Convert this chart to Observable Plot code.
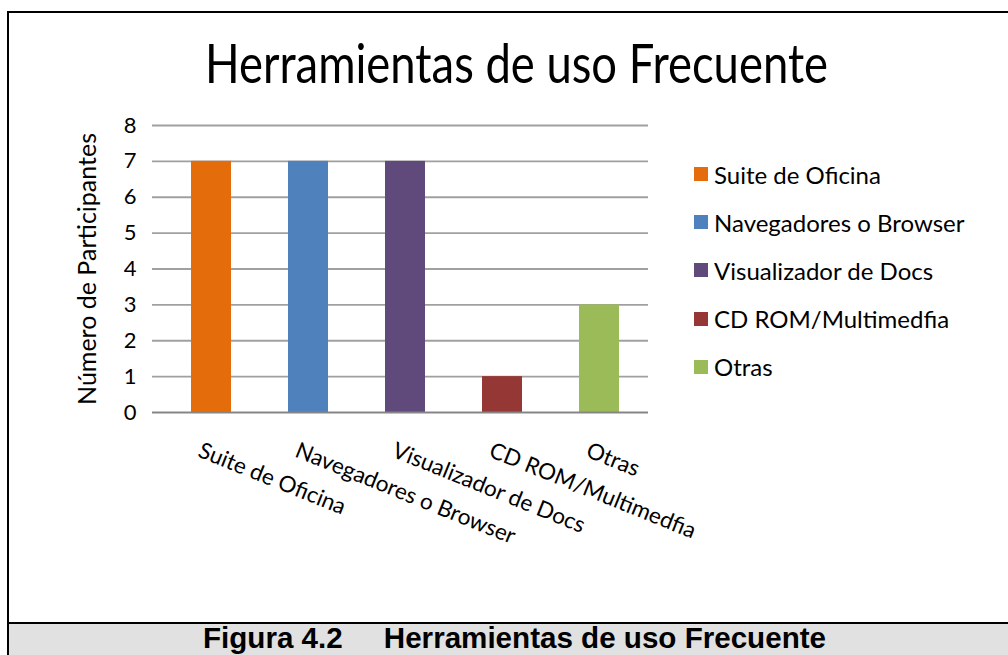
<!DOCTYPE html>
<html><head><meta charset="utf-8">
<script src="https://cdn.jsdelivr.net/npm/d3@7"></script>
<script src="https://cdn.jsdelivr.net/npm/@observablehq/plot@0.6"></script>
<style>
html,body{margin:0;padding:0;background:#fff;}
#wrap{position:relative;width:1008px;height:655px;overflow:hidden;background:#fff;font-family:Lato,"Open Sans",sans-serif;}
.ln{position:absolute;background:#000;}
#band{position:absolute;left:9px;top:624px;width:1000px;height:31px;background:#e1e1e1;}
.fit{position:absolute;white-space:pre;display:inline-block;transform-origin:0 0;color:#000;}
#title{top:36px;font-family:Lato,sans-serif;font-size:54px;line-height:54px;}
#caption{top:623px;font-family:"Liberation Sans",Arial,sans-serif;font-weight:bold;font-size:30px;line-height:30px;}
#chart{position:absolute;left:0;top:0;}
#legend{position:absolute;left:694px;top:150px;}
.row{height:48.2px;display:flex;align-items:center;font-size:24px;color:#000;white-space:nowrap;}
.sw{width:14px;height:14px;margin-right:6px;flex:none;}
</style>
</head><body>
<div id="wrap">
  <div id="chart"></div>
  <span id="title" class="fit"></span>
  <div id="legend"></div>
  <div class="ln" style="left:7px;top:11px;width:1001px;height:2px;"></div>
  <div class="ln" style="left:7px;top:11px;width:2px;height:644px;"></div>
  <div class="ln" style="left:9px;top:622px;width:999px;height:2px;"></div>
  <div id="band"></div>
  <span id="caption" class="fit"></span>
</div>
<script>
const title = "Herramientas de uso Frecuente";
const caption = "Figura 4.2     Herramientas de uso Frecuente";
const yLabel = "Número de Participantes";
const categories = ["Suite de Oficina", "Navegadores o Browser", "Visualizador de Docs", "CD ROM/Multimedfia", "Otras"];
const values = [7, 7, 7, 1, 3];
const colors = ["#E46C0A", "#4F81BD", "#604A7B", "#953735", "#9BBB59"];
const yTicks = [0, 1, 2, 3, 4, 5, 6, 7, 8];

const data = categories.map((c, i) => ({category: c, value: values[i]}));

function fitText(id, text, left, width) {
  const el = document.getElementById(id);
  el.textContent = text;
  const w = el.getBoundingClientRect().width;
  el.style.left = left + "px";
  el.style.transform = `scale(${width / w}, 1)`;
}
fitText("title", title, 205, 623);
fitText("caption", caption, 203, 623);

const legend = document.getElementById("legend");
categories.forEach((c, i) => {
  const row = document.createElement("div");
  row.className = "row";
  const sw = document.createElement("span");
  sw.className = "sw";
  sw.style.background = colors[i];
  const t = document.createElement("span");
  t.textContent = c;
  row.appendChild(sw);
  row.appendChild(t);
  legend.appendChild(row);
});

const chart = Plot.plot({
  width: 1008,
  height: 560,
  marginLeft: 161,
  marginRight: 360,
  marginTop: 125,
  marginBottom: 148,
  style: {fontFamily: "Lato, 'Open Sans', sans-serif", background: "transparent", color: "#000"},
  x: {domain: categories, paddingInner: 0.59, paddingOuter: 0.295, label: null},
  y: {domain: [0, 8], label: null},
  color: {domain: categories, range: colors},
  marks: [
    Plot.ruleY(yTicks.filter(d => d > 0), {stroke: "#a0a0a0", strokeWidth: 1.8, insetLeft: -9}),
    Plot.barY(data, {x: "category", y: "value", fill: "category"}),
    Plot.ruleX([0], {frameAnchor: "left", y1: 0, y2: 8, stroke: "#868686", strokeWidth: 2}),
    Plot.ruleY([0], {stroke: "#868686", strokeWidth: 2, insetLeft: -9}),
    Plot.axisY(yTicks, {tickSize: 0, tickPadding: 25, fontSize: 22, label: null}),
    Plot.axisX({tickSize: 0, tickRotate: 22, tickPadding: 37, fontSize: 22.5, dx: -12, label: null}),
    Plot.text([yLabel], {frameAnchor: "left", rotate: -90, dx: -74, fontSize: 25, textAnchor: "middle", lineAnchor: "middle"})
  ]
});
document.getElementById("chart").appendChild(chart);
</script>
</body></html>
